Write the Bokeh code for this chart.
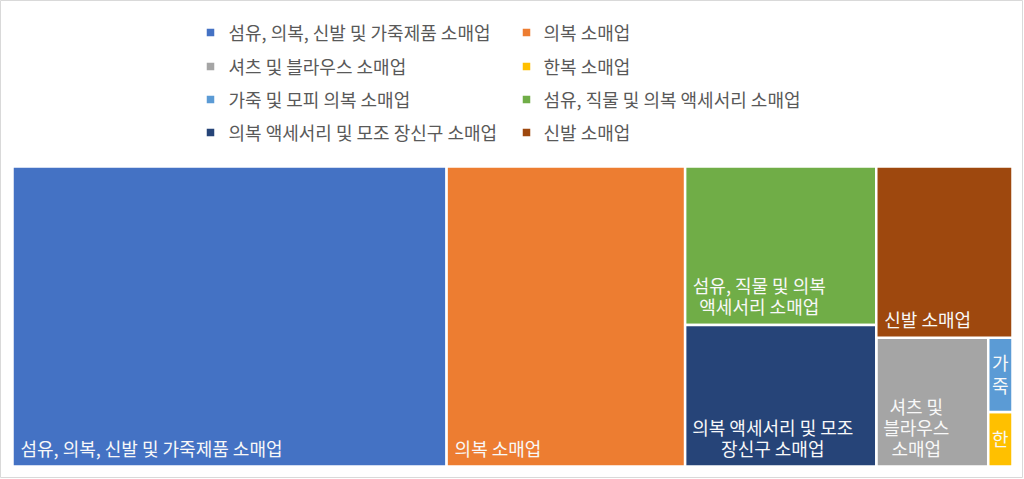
from bokeh.plotting import figure
from bokeh.models import Range1d, ColumnDataSource
from bokeh.core.properties import value
from bokeh.embed import file_html
from bokeh.resources import INLINE

# ---------------- data (legend / data order) ----------------
categories = [
    "섬유, 의복, 신발 및 가죽제품 소매업",
    "의복 소매업",
    "셔츠 및 블라우스 소매업",
    "한복 소매업",
    "가죽 및 모피 의복 소매업",
    "섬유, 직물 및 의복 액세서리 소매업",
    "의복 액세서리 및 모조 장신구 소매업",
    "신발 소매업",
]
values = [43400, 23850, 4800, 440, 600, 10090, 9020, 7780]
colors = ["#4472C4", "#ED7D31", "#A5A5A5", "#FFC000",
          "#5B9BD5", "#70AD47", "#264478", "#9E480E"]

FONT = "Noto Sans CJK KR"
FS = 18.0
W, H = 1000.0, 300.0  # treemap area (data units == pixels)


# ---------------- squarified treemap ----------------
def worst(row, side):
    s = sum(row)
    if s <= 0:
        return float("inf")
    return max(max(side * side * r / (s * s), (s * s) / (side * side * r)) for r in row)


def squarify(areas, x, y, w, h):
    rects = []
    items = list(areas)
    while items:
        side = min(w, h)
        row = [items[0]]
        i = 1
        while i < len(items) and worst(row + [items[i]], side) <= worst(row, side):
            row.append(items[i])
            i += 1
        items = items[i:]
        s = sum(row)
        if w >= h:  # vertical column on the left
            cw = s / h
            yy = y
            for a in row:
                rh = a / cw
                rects.append((x, yy, cw, rh))
                yy += rh
            x += cw
            w -= cw
        else:  # horizontal row on top
            rh = s / w
            xx = x
            for a in row:
                rw = a / rh
                rects.append((xx, y, rw, rh))
                xx += rw
            y += rh
            h -= rh
    return rects


order = sorted(range(len(values)), key=lambda i: -values[i])
total = float(sum(values))
areas = [values[i] / total * W * H for i in order]
rects_sorted = squarify(areas, 0.0, 0.0, W, H)
rects = [None] * len(values)
for k, i in enumerate(order):
    rects[i] = rects_sorted[k]

# ---------------- figure ----------------
FIG_W, FIG_H = 1023, 478
p = figure(width=FIG_W, height=FIG_H, output_backend="svg", toolbar_location=None,
           x_range=Range1d(-12, FIG_W - 12), y_range=Range1d(-(FIG_H - 466), 466),
           min_border=0, min_border_left=0, min_border_right=0,
           min_border_top=0, min_border_bottom=0)
p.axis.visible = False
p.grid.visible = False
p.outline_line_color = "#d9d9d9"
p.background_fill_color = "white"
p.border_fill_color = "white"

left = [r[0] for r in rects]
right = [r[0] + r[2] for r in rects]
top = [H - r[1] for r in rects]
bottom = [H - r[1] - r[3] for r in rects]
p.quad(left=left, right=right, top=top, bottom=bottom, fill_color=colors,
       line_color="white", line_width=2.5)


# ---------------- labels ----------------
def tw(s):
    return sum(FS * 0.89 if ord(c) > 0x1100 else FS * 0.28 for c in s)


def wrap(text, avail):
    words = text.split(" ")
    lines = []
    cur = ""
    for wd in words:
        cand = wd if not cur else cur + " " + wd
        if tw(cand) <= avail:
            cur = cand
        else:
            if cur:
                lines.append(cur)
            if tw(wd) <= avail:
                cur = wd
            else:
                cur = ""
                for ch in wd:
                    if cur and tw(cur + ch) > avail:
                        lines.append(cur)
                        cur = ch
                    else:
                        cur += ch
    if cur:
        lines.append(cur)
    return lines


LH = 21.0
PADX = 8.0
lx, ly, lt, la = [], [], [], []
for i, name in enumerate(categories):
    x0, y0t, w, h = rects[i]
    avail = w - 12
    lines = wrap(name, avail)
    maxn = int((h - 20) // LH)
    bottom_y = H - y0t - h
    if len(lines) <= maxn:
        ys = [bottom_y + 18.5 + LH * (len(lines) - 1 - k) for k in range(len(lines))]
    else:
        lines = lines[:max(maxn, 1)]
        n = len(lines)
        cy = bottom_y + h / 2 + 1
        ys = [cy + 23 * ((n - 1) / 2 - k) for k in range(n)]
    bw = max(tw(l) for l in lines)
    if bw > avail:
        cx = x0 + w / 2
        for l, yy in zip(lines, ys):
            lx.append(cx); ly.append(yy); lt.append(l); la.append("center")
    elif len(lines) == 1:
        for l, yy in zip(lines, ys):
            lx.append(x0 + PADX); ly.append(yy); lt.append(l); la.append("left")
    else:
        cx = x0 + PADX + bw / 2
        for l, yy in zip(lines, ys):
            lx.append(cx); ly.append(yy); lt.append(l); la.append("center")

p.text(x="x", y="y", text="t", text_align="a",
       source=ColumnDataSource(dict(x=lx, y=ly, t=lt, a=la)),
       text_baseline="middle", text_color="#F8F8F8",
       text_font=value(FONT), text_font_size=f"{FS}px")

# ---------------- legend ----------------
col_sq = [198.0, 514.0]
col_tx = [216.0, 531.0]
row_y = [434.0, 400.0, 367.0, 334.0]
sx, sy, tx, ty = [], [], [], []
for i in range(len(categories)):
    r, c = divmod(i, 2)
    sx.append(col_sq[c]); sy.append(row_y[r])
    tx.append(col_tx[c]); ty.append(row_y[r] + 1)
p.scatter(x=sx, y=sy, marker="square", size=7.5, fill_color=colors, line_color=None)
p.text(x=tx, y=ty, text=categories, text_baseline="middle", text_align="left",
       text_color="#595959", text_font=value(FONT), text_font_size=f"{FS}px")

open("out.html", "w").write(file_html(p, INLINE))
